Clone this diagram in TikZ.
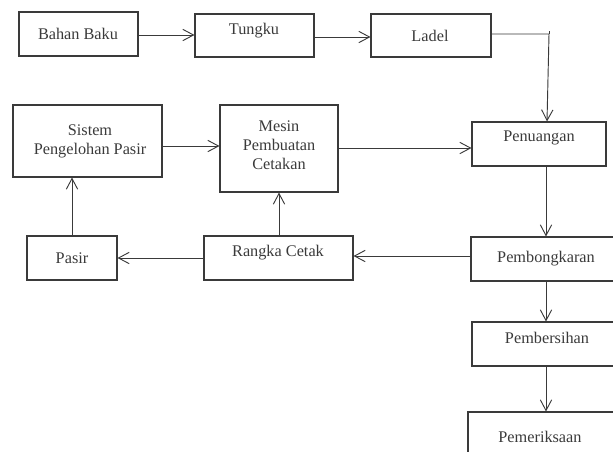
\documentclass[tikz,border=0pt]{standalone}
\usepackage{fontspec}
\setmainfont{Liberation Serif}
\usetikzlibrary{arrows.meta}
\definecolor{ink}{HTML}{3A3A3A}
\tikzset{
  box/.style={draw=ink, line width=0.8pt, inner sep=0pt, rectangle},
  lbl/.style={text=ink, font=\fontsize{12.2}{14.3}\selectfont, align=center, inner sep=0pt},
  arr/.style={draw=ink, line width=0.7pt, -{Straight Barb[length=8pt, width=8.5pt, line width=0.7pt]}},
  ln/.style={draw=ink, line width=0.7pt}
}
\begin{document}
\begin{tikzpicture}[x=0.75pt, y=-0.75pt]
\useasboundingbox (0,0) rectangle (613,451);
\clip (0,0) rectangle (613,451);
% boxes
\node[box, minimum width=89.25pt, minimum height=33pt] (bahan) at (78.5,34) {};
\node[lbl] (bahant) at (78,34) {Bahan Baku};
\node[box, minimum width=89.25pt, minimum height=32.25pt] (tungku) at (254.5,35.5) {};
\node[lbl] (tungkut) at (254,31) {Tungku};
\node[box, minimum width=90pt, minimum height=32.25pt] (ladel) at (431,35.5) {};
\node[lbl] (ladelt) at (430,36) {Ladel};
\node[box, minimum width=111.75pt, minimum height=54pt] (sistem) at (87.5,141) {};
\node[lbl] (sistemt) at (90,141) {Sistem\\Pengelohan Pasir};
\node[box, minimum width=88.5pt, minimum height=65.25pt] (mesin) at (279,148.5) {};
\node[lbl] (mesint) at (279,145.5) {Mesin\\Pembuatan\\Cetakan};
\node[box, minimum width=100.5pt, minimum height=33pt] (penuangan) at (539,144) {};
\node[lbl] (penuangant) at (539,138) {Penuangan};
\node[box, minimum width=67.5pt, minimum height=33pt] (pasir) at (72,258) {};
\node[lbl] (pasirt) at (72,258) {Pasir};
\node[box, minimum width=111.75pt, minimum height=33pt] (rangka) at (278.5,258) {};
\node[lbl] (rangkat) at (278,253) {Rangka Cetak};
\node[box, minimum width=112.5pt, minimum height=33pt] (pemb) at (546,259) {};
\node[lbl] (pembt) at (546,259) {Pembongkaran};
\node[box, minimum width=112.5pt, minimum height=33pt] (bersih) at (547,344) {};
\node[lbl] (bersiht) at (547,338) {Pembersihan};
\node[box, minimum width=114pt, minimum height=45pt] (periksa) at (544,442) {};
\node[lbl] (periksat) at (540,437) {Pemeriksaan};
% connectors
\coordinate (c1) at (549,34);
\coordinate (c1tick) at (549,31);
\draw[arr] (bahan.east |- 0,35) -- (tungku.west |- 0,35);
\draw[arr] (tungku.east |- 0,37) -- (ladel.west |- 0,37);
\draw[ln] (c1tick) -- (c1);
\draw[arr] (ladel.east |- c1) -- (c1) -- (547,0 |- penuangan.north);
\draw[arr] (sistem.east |- 0,146) -- (mesin.west |- 0,146);
\draw[arr] (mesin.east |- 0,148) -- (penuangan.west |- 0,148);
\draw[arr] (pasir.north) -- (pasir.north |- sistem.south);
\draw[arr] (rangka.north -| 279,0) -- (mesin.south -| 279,0);
\draw[arr] (rangka.west) -- (pasir.east);
\draw[arr] (pemb.west |- 0,256) -- (rangka.east |- 0,256);
\draw[arr] (penuangan.south -| 546,0) -- (pemb.north -| 546,0);
\draw[arr] (pemb.south -| 546,0) -- (bersih.north -| 546,0);
\draw[arr] (bersih.south -| 546,0) -- (periksa.north -| 546,0);
\end{tikzpicture}
\end{document}
